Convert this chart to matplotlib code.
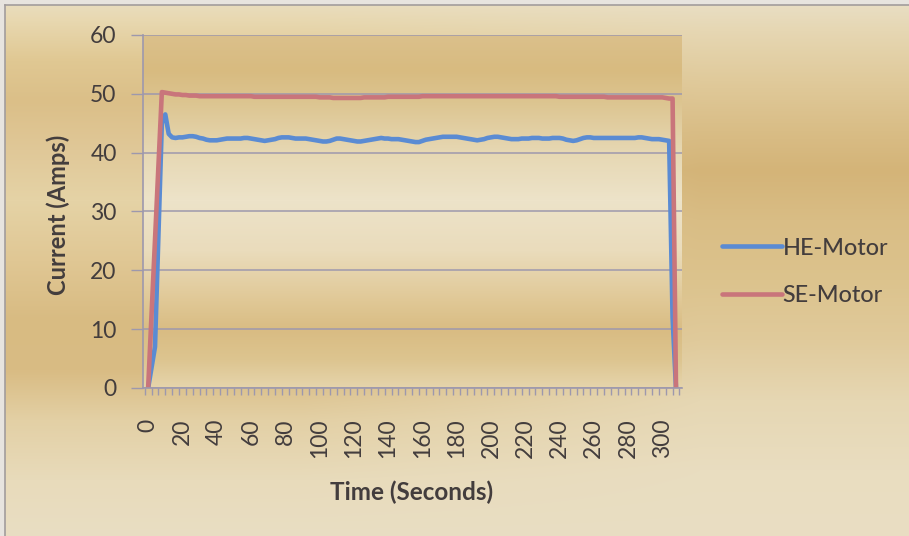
import numpy as np
import matplotlib
matplotlib.use("Agg")
import matplotlib.pyplot as plt
from matplotlib.colors import to_rgb

# ---- data -------------------------------------------------------------
time_s = list(range(0, 310, 2))

he_motor = [
    0.0, 3.5, 7.0, 26.0, 45.0, 46.5, 43.2, 42.6, 42.5, 42.6,
    42.6, 42.7, 42.8, 42.8, 42.7, 42.5, 42.4, 42.2, 42.1, 42.1,
    42.1, 42.2, 42.3, 42.4, 42.4, 42.4, 42.4, 42.4, 42.5, 42.5,
    42.4, 42.3, 42.2, 42.1, 42.0, 42.1, 42.2, 42.3, 42.5, 42.6,
    42.6, 42.6, 42.5, 42.4, 42.4, 42.4, 42.4, 42.3, 42.2, 42.1,
    42.0, 41.9, 41.9, 42.0, 42.2, 42.4, 42.4, 42.3, 42.2, 42.1,
    42.0, 41.9, 41.9, 42.0, 42.1, 42.2, 42.3, 42.4, 42.5, 42.4,
    42.4, 42.3, 42.3, 42.3, 42.2, 42.1, 42.0, 41.9, 41.8, 41.8,
    42.0, 42.2, 42.3, 42.4, 42.5, 42.6, 42.7, 42.7, 42.7, 42.7,
    42.7, 42.6, 42.5, 42.4, 42.3, 42.2, 42.1, 42.2, 42.3, 42.5,
    42.6, 42.7, 42.7, 42.6, 42.5, 42.4, 42.3, 42.3, 42.3, 42.4,
    42.4, 42.4, 42.5, 42.5, 42.5, 42.4, 42.4, 42.4, 42.5, 42.5,
    42.5, 42.4, 42.2, 42.1, 42.0, 42.1, 42.3, 42.5, 42.6, 42.6,
    42.5, 42.5, 42.5, 42.5, 42.5, 42.5, 42.5, 42.5, 42.5, 42.5,
    42.5, 42.5, 42.5, 42.6, 42.6, 42.5, 42.4, 42.3, 42.3, 42.3,
    42.2, 42.1, 42.0, 12.0, 0.0,
]

se_motor = [
    0.0, 12.5, 25.0, 37.5, 50.3, 50.2, 50.1, 50.0, 49.9, 49.9,
    49.8, 49.8, 49.7, 49.7, 49.7, 49.6, 49.6, 49.6, 49.6, 49.6,
    49.6, 49.6, 49.6, 49.6, 49.6, 49.6, 49.6, 49.6, 49.6, 49.6,
    49.6, 49.5, 49.5, 49.5, 49.5, 49.5, 49.5, 49.5, 49.5, 49.5,
    49.5, 49.5, 49.5, 49.5, 49.5, 49.5, 49.5, 49.5, 49.5, 49.5,
    49.4, 49.4, 49.4, 49.4, 49.3, 49.3, 49.3, 49.3, 49.3, 49.3,
    49.3, 49.3, 49.3, 49.4, 49.4, 49.4, 49.4, 49.4, 49.4, 49.4,
    49.5, 49.5, 49.5, 49.5, 49.5, 49.5, 49.5, 49.5, 49.5, 49.5,
    49.6, 49.6, 49.6, 49.6, 49.6, 49.6, 49.6, 49.6, 49.6, 49.6,
    49.6, 49.6, 49.6, 49.6, 49.6, 49.6, 49.6, 49.6, 49.6, 49.6,
    49.6, 49.6, 49.6, 49.6, 49.6, 49.6, 49.6, 49.6, 49.6, 49.6,
    49.6, 49.6, 49.6, 49.6, 49.6, 49.6, 49.6, 49.6, 49.6, 49.6,
    49.5, 49.5, 49.5, 49.5, 49.5, 49.5, 49.5, 49.5, 49.5, 49.5,
    49.5, 49.5, 49.5, 49.5, 49.4, 49.4, 49.4, 49.4, 49.4, 49.4,
    49.4, 49.4, 49.4, 49.4, 49.4, 49.4, 49.4, 49.4, 49.4, 49.4,
    49.4, 49.3, 49.2, 49.2, 0.0,
]

y_ticks = [0, 10, 20, 30, 40, 50, 60]
x_labels = list(range(0, 301, 20))
series_names = ["HE-Motor", "SE-Motor"]

# ---- styling ------------------------------------------------------------
W, H = 909, 536
BLUE = "#5a8bd3"
RED = "#c9757b"
GRID = "#9d98ad"
TEXT = "#433d3d"
FONT = "Lato"

# plot-area box in pixels
PX_L, PX_R, PX_T, PX_B = 143, 682, 35, 388


def ramp(stops, n):
    ys = np.array([s[0] for s in stops], float)
    cs = np.array([to_rgb(s[1]) for s in stops])
    yy = np.arange(n)
    return np.stack([np.interp(yy, ys, cs[:, k]) for k in range(3)], axis=1)


left_prof = ramp([
    (0, "#e9dec1"), (20, "#e8d8b0"), (60, "#e0c893"), (100, "#dbbf88"),
    (150, "#e0c898"), (200, "#e5d3a6"), (260, "#e0c794"), (320, "#d8bb82"),
    (370, "#d9bc84"), (420, "#e3d0a5"), (480, "#e8dbbb"), (536, "#e9dec3"),
], H)
right_prof = ramp([
    (0, "#e9dfc6"), (30, "#e6d7b3"), (80, "#e0ca9b"), (130, "#d9bd86"),
    (170, "#d4b478"), (220, "#d9bd85"), (280, "#dcc38d"), (340, "#e0ca9b"),
    (400, "#e6d7b3"), (470, "#e9ddc0"), (536, "#e9dec3"),
], H)
plot_prof = ramp([
    (35, "#dbc08b"), (70, "#d8bb80"), (100, "#dcc48f"), (150, "#e6d7b2"),
    (200, "#ede3c9"), (250, "#eadcbc"), (300, "#e0c896"), (330, "#d9bc83"),
    (360, "#ddc590"), (388, "#e6d5ad"),
], H)

xx = np.arange(W)
wx = np.clip((xx - 300) / 400.0, 0, 1)[None, :, None]
bg = left_prof[:, None, :] * (1 - wx) + right_prof[:, None, :] * wx
bg[PX_T:PX_B, PX_L:PX_R, :] = plot_prof[PX_T:PX_B, None, :]
outer = np.array(to_rgb("#e7e4df"))
bg[:5, :, :] = outer
bg[:, :5, :] = outer

fig = plt.figure(figsize=(W / 100, H / 100), dpi=100)
bg_ax = fig.add_axes([0, 0, 1, 1], zorder=-10)
bg_ax.imshow(bg, extent=[0, W, H, 0], aspect="auto", interpolation="bilinear")
bg_ax.plot([5, W], [5, 5], color="#a29d9c", lw=1.2)
bg_ax.plot([5, 5], [5, H], color="#a29d9c", lw=1.2)
bg_ax.set_xlim(0, W)
bg_ax.set_ylim(H, 0)
bg_ax.axis("off")

ax = fig.add_axes([PX_L / W, 1 - PX_B / H, (PX_R - PX_L) / W, (PX_B - PX_T) / H])
ax.set_facecolor("none")

lines = []
lines += ax.plot(time_s, he_motor, color=BLUE, lw=3.3, solid_joinstyle="round",
                 solid_capstyle="round")
lines += ax.plot(time_s, se_motor, color=RED, lw=3.3, solid_joinstyle="round",
                 solid_capstyle="round")

ax.set_xlim(-3, 311.5)
ax.set_ylim(0, 60)

ax.set_yticks(y_ticks)
ax.yaxis.grid(True, color=GRID, lw=1.1)
ax.set_axisbelow(True)
ax.tick_params(axis="y", length=9, width=1, color=GRID, pad=10,
               labelsize=16.5, labelcolor=TEXT)

ax.set_xticks(x_labels)
ax.set_xticklabels([str(v) for v in x_labels], rotation=90)
ax.set_xticks(np.arange(-2, 311, 4), minor=True)
ax.tick_params(axis="x", which="major", length=0, pad=22,
               labelsize=16.5, labelcolor=TEXT)
ax.tick_params(axis="x", which="minor", length=5, width=1, color=GRID)

for lab in ax.get_xticklabels() + ax.get_yticklabels():
    lab.set_fontfamily(FONT)

for side in ("top", "right"):
    ax.spines[side].set_visible(False)
for side in ("left", "bottom"):
    ax.spines[side].set_color(GRID)
    ax.spines[side].set_linewidth(1.2)

ax.set_ylabel("Current (Amps)", fontsize=17, fontweight="bold", color=TEXT,
              family=FONT)
ax.yaxis.set_label_coords((58 - PX_L) / (PX_R - PX_L), 0.49)
ax.yaxis.label.set_va("center")
ax.set_xlabel("Time (Seconds)", fontsize=17.5, fontweight="bold", color=TEXT,
              family=FONT)
ax.xaxis.set_label_coords((412 - PX_L) / (PX_R - PX_L),
                          -(492 - PX_B) / (PX_B - PX_T))
ax.xaxis.label.set_va("center")

leg = fig.legend(lines, series_names, loc="center left",
                 bbox_to_anchor=(722 / W, 1 - 272 / H), frameon=False,
                 borderpad=0, borderaxespad=0, handlelength=2.55,
                 handletextpad=0.05, labelspacing=1.15,
                 prop={"family": FONT, "size": 16.8, "weight": "medium"})
for t in leg.get_texts():
    t.set_color(TEXT)

fig.savefig("out.png", dpi=100)
